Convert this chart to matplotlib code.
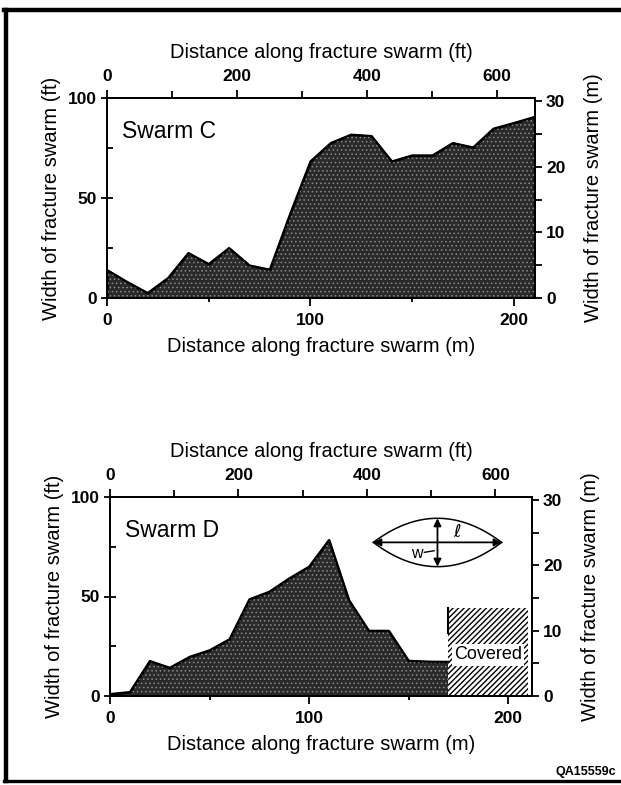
import numpy as np
import matplotlib
matplotlib.use("Agg")
import matplotlib.pyplot as plt
from matplotlib.lines import Line2D
from matplotlib.patches import Rectangle
from matplotlib.ticker import MultipleLocator

plt.rcParams['font.family'] = ['Liberation Sans', 'DejaVu Sans']

# Swarm C: distance (m) vs width (ft)
swarm_c_dist = [0, 10, 20, 30, 40, 50, 60, 70, 80, 90, 100,
                110, 120, 130, 140, 150, 160, 170, 180, 190, 200, 210]
swarm_c_width = [14, 8, 2.5, 10, 22.5, 17, 25, 16.3, 14.2, 42, 68.3,
                 77.5, 81.7, 81, 68.3, 71.3, 71.3, 77.5, 75.3, 84.7, 87.5, 90.5]

# Swarm D: distance (m) vs width (ft)
swarm_d_dist = [0, 10, 20, 30, 40, 50, 60, 70, 80, 90, 100,
                110, 120, 130, 140, 150, 160, 170]
swarm_d_width = [1, 2, 17.6, 14.2, 19.7, 23, 28.5, 48.6, 52.4, 59.1, 65,
                 78.4, 48.2, 32.8, 32.8, 17.7, 17.3, 17.2]

# covered (unexposed) stretch of swarm D
covered_span = (170, 210)
covered_height = 44

FT_PER_M = 3.281
W, H = 621, 785
FILL = '#2a2a2a'

fig = plt.figure(figsize=(W / 100, H / 100), dpi=100)


def px_axes(x0, y0, x1, y1):
    # rectangle given in pixel coords (top-left origin)
    return fig.add_axes([x0 / W, 1 - y1 / H, (x1 - x0) / W, (y1 - y0) / H])


def stipple(ax, x, y):
    ax.fill_between(x, y, 0, facecolor=FILL, edgecolor='black',
                    linewidth=1.5, zorder=2)
    with plt.rc_context({'hatch.linewidth': 0.6}):
        ax.fill_between(x, y, 0, facecolor='none', edgecolor='#8a8a8a',
                        hatch='....', linewidth=0, zorder=2.1)
    ax.plot(x, y, color='black', lw=1.5, zorder=2.2)


def setup_panel(ax, xmax_m, ftmax_top):
    ax.set_xlim(0, xmax_m)
    ax.set_ylim(0, 100)
    for s in ax.spines.values():
        s.set_linewidth(1.3)
    ax.xaxis.set_major_locator(MultipleLocator(100))
    ax.xaxis.set_minor_locator(MultipleLocator(50))
    ax.yaxis.set_major_locator(MultipleLocator(50))
    ax.yaxis.set_minor_locator(MultipleLocator(25))
    ax.tick_params(axis='x', which='major', direction='out', length=6, width=1.3,
                   labelsize=12.5, pad=5)
    ax.tick_params(axis='x', which='minor', direction='out', length=3, width=1.3)
    ax.tick_params(axis='y', which='major', direction='inout', length=8, width=1.3,
                   labelsize=12.5, pad=3)
    ax.tick_params(axis='y', which='minor', direction='in', length=4, width=1.3)
    for lab in ax.get_xticklabels() + ax.get_yticklabels():
        lab.set_fontweight('bold')
    ax.set_xlabel('Distance along fracture swarm (m)', fontsize=14.5, labelpad=6)
    ax.set_ylabel('Width of fracture swarm (ft)', fontsize=14.5, labelpad=5)

    axr = ax.twinx()
    axr.set_ylim(0, 100 / FT_PER_M)
    axr.yaxis.set_major_locator(MultipleLocator(10))
    axr.yaxis.set_minor_locator(MultipleLocator(5))
    axr.tick_params(axis='y', which='major', direction='out', length=5, width=1.3,
                    labelsize=12.5, pad=3)
    axr.tick_params(axis='y', which='minor', direction='out', length=5, width=1.3)
    for lab in axr.get_yticklabels():
        lab.set_fontweight('bold')
    axr.set_ylabel('Width of fracture swarm (m)', fontsize=14.5, labelpad=13)

    axt = ax.twiny()
    axt.set_xlim(0, ftmax_top)
    axt.xaxis.set_major_locator(MultipleLocator(200))
    axt.xaxis.set_minor_locator(MultipleLocator(100))
    axt.tick_params(axis='x', which='major', direction='out', length=6, width=1.3,
                    labelsize=12.5, pad=4)
    axt.tick_params(axis='x', which='minor', direction='out', length=5, width=1.3)
    for lab in axt.get_xticklabels():
        lab.set_fontweight('bold')
    axt.set_xlabel('Distance along fracture swarm (ft)', fontsize=14.5, labelpad=8)
    for a in (axr, axt):
        for s in a.spines.values():
            s.set_linewidth(1.3)
    return axr, axt


# ---- Swarm C
ax1 = px_axes(107, 98, 535, 298)
setup_panel(ax1, 210.4, 658)
stipple(ax1, swarm_c_dist, swarm_c_width)
ax1.text(0.035, 0.83, 'Swarm C', transform=ax1.transAxes, fontsize=16.5,
         va='center', ha='left')

# ---- Swarm D
ax2 = px_axes(110, 497, 532, 696)
setup_panel(ax2, 212, 657)
stipple(ax2, swarm_d_dist, swarm_d_width)
ax2.add_patch(Rectangle((covered_span[0], 0), covered_span[1] - covered_span[0],
                        covered_height, facecolor='white', edgecolor='black',
                        hatch='//////', linewidth=0, zorder=2))
ax2.plot([covered_span[0], covered_span[0]], [covered_height * 0.72, covered_height],
         color='black', lw=1.5, zorder=3)
ax2.text(sum(covered_span) / 2, covered_height * 0.47, 'Covered', fontsize=13,
         ha='center', va='center', zorder=4,
         bbox=dict(facecolor='white', edgecolor='none', pad=1.5))
ax2.text(0.035, 0.83, 'Swarm D', transform=ax2.transAxes, fontsize=16.5,
         va='center', ha='left')

# lens sketch (axes fraction)
lx0, lx1, ly, ltop, lbot = 0.624, 0.928, 0.772, 0.893, 0.650
t = np.linspace(-1, 1, 60)
lx = (lx0 + lx1) / 2 + t * (lx1 - lx0) / 2
ax2.plot(lx, ly + (ltop - ly) * (1 - t ** 2), transform=ax2.transAxes,
         color='black', lw=1.1, zorder=5)
ax2.plot(lx, ly - (ly - lbot) * (1 - t ** 2), transform=ax2.transAxes,
         color='black', lw=1.1, zorder=5)
arrow = dict(arrowstyle='<|-|>', color='black', lw=1.3, mutation_scale=11,
             shrinkA=0, shrinkB=0)
ax2.annotate('', xy=(lx0, ly), xytext=(lx1, ly), xycoords='axes fraction',
             textcoords='axes fraction', arrowprops=arrow, zorder=5)
lxc = (lx0 + lx1) / 2
ax2.annotate('', xy=(lxc, ltop), xytext=(lxc, lbot), xycoords='axes fraction',
             textcoords='axes fraction', arrowprops=arrow, zorder=5)
ax2.text(0.822, 0.82, r'$\ell$', transform=ax2.transAxes, fontsize=13,
         ha='center', va='center')
ax2.text(0.728, 0.717, 'w', transform=ax2.transAxes, fontsize=11.5,
         ha='center', va='center')
ax2.plot([0.745, 0.768], [0.722, 0.73], transform=ax2.transAxes,
         color='black', lw=1.0)

# outer frame + job id
fig.add_artist(Line2D([6 / W, 6 / W], [1 - 10 / H, 1 - 781 / H], color='black', lw=3.2))
fig.add_artist(Line2D([4 / W, 1.0], [1 - 10 / H, 1 - 10 / H], color='black', lw=3.2))
fig.add_artist(Line2D([4 / W, 1.0], [1 - 781 / H, 1 - 781 / H], color='black', lw=2.4))
fig.text(616 / W, 1 - 772 / H, 'QA15559c', fontsize=9, fontweight='bold',
         ha='right', va='center')

fig.savefig('out.png', dpi=100)
